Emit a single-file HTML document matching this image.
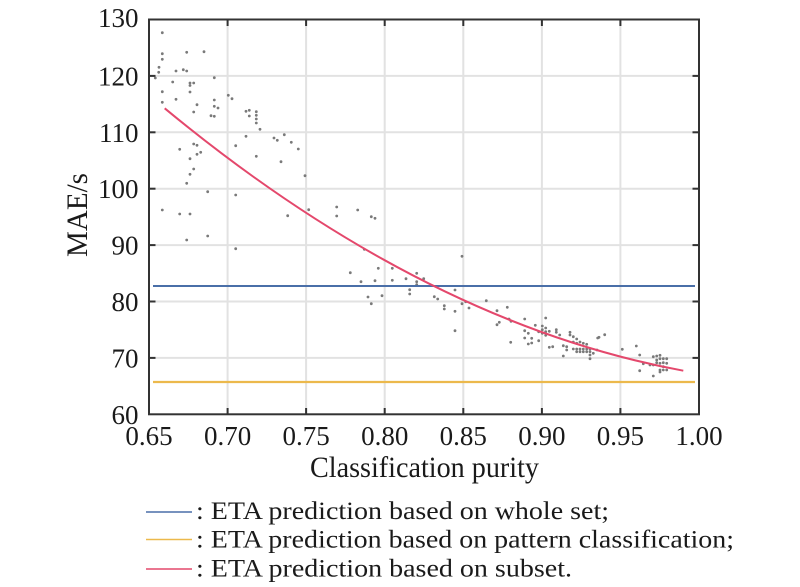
<!DOCTYPE html>
<html><head><meta charset="utf-8">
<style>
html,body{margin:0;padding:0;background:#fff;}
svg{display:block;}
text{font-family:"Liberation Serif","Times New Roman",serif;fill:#1a1a1a;}
</style></head>
<body>
<svg width="800" height="587" viewBox="0 0 800 587" xmlns="http://www.w3.org/2000/svg">
<rect x="0" y="0" width="800" height="587" fill="#fff"/>
<!-- grid -->
<g stroke="#e2e2e2" stroke-width="2">
<line x1="227.6" y1="19.5" x2="227.6" y2="414.3"/>
<line x1="306.1" y1="19.5" x2="306.1" y2="414.3"/>
<line x1="384.7" y1="19.5" x2="384.7" y2="414.3"/>
<line x1="463.3" y1="19.5" x2="463.3" y2="414.3"/>
<line x1="541.9" y1="19.5" x2="541.9" y2="414.3"/>
<line x1="620.4" y1="19.5" x2="620.4" y2="414.3"/>
<line x1="149" y1="75.9" x2="699" y2="75.9"/>
<line x1="149" y1="132.3" x2="699" y2="132.3"/>
<line x1="149" y1="188.7" x2="699" y2="188.7"/>
<line x1="149" y1="245.1" x2="699" y2="245.1"/>
<line x1="149" y1="301.5" x2="699" y2="301.5"/>
<line x1="149" y1="357.9" x2="699" y2="357.9"/>
</g>
<!-- scatter -->
<g fill="#7a7a7a">
<circle cx="162.3" cy="32.7" r="1.4"/><circle cx="162.3" cy="53.7" r="1.4"/><circle cx="162.3" cy="59.3" r="1.4"/>
<circle cx="186.7" cy="52.3" r="1.4"/><circle cx="204" cy="51.7" r="1.4"/><circle cx="159" cy="67.3" r="1.4"/>
<circle cx="158.7" cy="72.3" r="1.4"/><circle cx="176" cy="71" r="1.4"/><circle cx="183.3" cy="69.7" r="1.4"/>
<circle cx="186.7" cy="71" r="1.4"/><circle cx="155.3" cy="78" r="1.4"/><circle cx="172.7" cy="82" r="1.4"/>
<circle cx="190" cy="83" r="1.4"/><circle cx="190" cy="85.5" r="1.4"/><circle cx="193.7" cy="83" r="1.4"/>
<circle cx="214.3" cy="77.7" r="1.4"/><circle cx="162.3" cy="91.7" r="1.4"/><circle cx="190" cy="92" r="1.4"/>
<circle cx="176" cy="99.3" r="1.4"/><circle cx="162.3" cy="102.3" r="1.4"/><circle cx="214.3" cy="100" r="1.4"/>
<circle cx="197" cy="104.7" r="1.4"/><circle cx="214.3" cy="106.3" r="1.4"/><circle cx="218" cy="108" r="1.4"/>
<circle cx="193.7" cy="112" r="1.4"/><circle cx="211" cy="115.7" r="1.4"/><circle cx="214.3" cy="116.3" r="1.4"/>
<circle cx="228.3" cy="95.3" r="1.4"/><circle cx="232" cy="98.7" r="1.4"/><circle cx="246" cy="111.3" r="1.4"/>
<circle cx="249.3" cy="110.3" r="1.4"/><circle cx="249.3" cy="116" r="1.4"/><circle cx="256.3" cy="111.7" r="1.4"/>
<circle cx="256.3" cy="115.3" r="1.4"/><circle cx="256.3" cy="119" r="1.4"/><circle cx="256.3" cy="123" r="1.4"/>
<circle cx="260" cy="129.3" r="1.4"/><circle cx="246" cy="136.3" r="1.4"/><circle cx="274" cy="138" r="1.4"/>
<circle cx="277.3" cy="140.3" r="1.4"/><circle cx="284.3" cy="134.7" r="1.4"/><circle cx="291.3" cy="142.3" r="1.4"/>
<circle cx="298.3" cy="149" r="1.4"/><circle cx="305" cy="175.7" r="1.4"/><circle cx="235.7" cy="145.7" r="1.4"/>
<circle cx="256.3" cy="156.3" r="1.4"/><circle cx="281" cy="161.7" r="1.4"/><circle cx="179.7" cy="149.3" r="1.4"/>
<circle cx="193.7" cy="144" r="1.4"/><circle cx="197" cy="145.3" r="1.4"/><circle cx="200.7" cy="152.3" r="1.4"/>
<circle cx="197" cy="154.3" r="1.4"/><circle cx="190" cy="158.7" r="1.4"/><circle cx="193.7" cy="169" r="1.4"/>
<circle cx="190" cy="174.3" r="1.4"/><circle cx="186.7" cy="183.3" r="1.4"/><circle cx="207.7" cy="191.7" r="1.4"/>
<circle cx="235.7" cy="195" r="1.4"/><circle cx="162.3" cy="210" r="1.4"/><circle cx="179.7" cy="214" r="1.4"/>
<circle cx="190" cy="214" r="1.4"/><circle cx="287.7" cy="215.7" r="1.4"/><circle cx="308.7" cy="209.7" r="1.4"/>
<circle cx="186.7" cy="240" r="1.4"/><circle cx="207.7" cy="236" r="1.4"/><circle cx="235.7" cy="248.7" r="1.4"/>
<!-- middle -->
<circle cx="336.7" cy="207" r="1.4"/><circle cx="336.7" cy="216" r="1.4"/><circle cx="357.7" cy="210" r="1.4"/>
<circle cx="371.3" cy="216.7" r="1.4"/><circle cx="375" cy="218.3" r="1.4"/><circle cx="364.3" cy="249.3" r="1.4"/>
<circle cx="350.3" cy="272.7" r="1.4"/><circle cx="378.3" cy="268.3" r="1.4"/><circle cx="392.3" cy="268.3" r="1.4"/>
<circle cx="361" cy="281.7" r="1.4"/><circle cx="375" cy="280.7" r="1.4"/><circle cx="392.3" cy="280.3" r="1.4"/>
<circle cx="406" cy="278.7" r="1.4"/><circle cx="416.7" cy="273.3" r="1.4"/><circle cx="416.7" cy="281.7" r="1.4"/>
<circle cx="416.7" cy="284.7" r="1.4"/><circle cx="423.7" cy="278.7" r="1.4"/><circle cx="368" cy="297" r="1.4"/>
<circle cx="371.3" cy="303.7" r="1.4"/><circle cx="382" cy="295.7" r="1.4"/><circle cx="409.7" cy="289.7" r="1.4"/>
<circle cx="409.7" cy="294" r="1.4"/><circle cx="434.3" cy="296.7" r="1.4"/><circle cx="437.7" cy="299" r="1.4"/>
<circle cx="444.3" cy="305.7" r="1.4"/><circle cx="444.3" cy="309" r="1.4"/><circle cx="455" cy="290" r="1.4"/>
<circle cx="455" cy="311.3" r="1.4"/><circle cx="455" cy="330.7" r="1.4"/><circle cx="462" cy="256.3" r="1.4"/>
<circle cx="462" cy="303.7" r="1.4"/><circle cx="465.7" cy="301.7" r="1.4"/><circle cx="469" cy="308" r="1.4"/>
<circle cx="486.3" cy="300.7" r="1.4"/><circle cx="497" cy="310.7" r="1.4"/><circle cx="497" cy="324.7" r="1.4"/>
<circle cx="499.3" cy="322.3" r="1.4"/>
<!-- right -->
<circle cx="507.3" cy="307.3" r="1.4"/><circle cx="511" cy="321.3" r="1.4"/><circle cx="509" cy="319" r="1.4"/>
<circle cx="510.7" cy="342.3" r="1.4"/><circle cx="524.7" cy="319" r="1.4"/><circle cx="524.7" cy="330.7" r="1.4"/>
<circle cx="528.3" cy="333.3" r="1.4"/><circle cx="524.7" cy="338" r="1.4"/><circle cx="531.7" cy="338.3" r="1.4"/>
<circle cx="528.3" cy="344" r="1.4"/><circle cx="531.7" cy="343" r="1.4"/><circle cx="535.3" cy="325.3" r="1.4"/>
<circle cx="538.7" cy="331.7" r="1.4"/><circle cx="538.7" cy="340.7" r="1.4"/><circle cx="542.3" cy="326" r="1.4"/>
<circle cx="542.3" cy="329.7" r="1.4"/><circle cx="542.3" cy="333.3" r="1.4"/><circle cx="545.7" cy="318" r="1.4"/>
<circle cx="545.7" cy="328" r="1.4"/><circle cx="545.7" cy="331.7" r="1.4"/><circle cx="545.7" cy="335.3" r="1.4"/>
<circle cx="549.3" cy="331.3" r="1.4"/><circle cx="549.3" cy="347.3" r="1.4"/><circle cx="552.7" cy="346.7" r="1.4"/>
<circle cx="556.3" cy="329.7" r="1.4"/><circle cx="556.3" cy="332.3" r="1.4"/><circle cx="559.7" cy="335" r="1.4"/>
<circle cx="563.3" cy="345.7" r="1.4"/><circle cx="566.7" cy="346.7" r="1.4"/><circle cx="566.7" cy="350" r="1.4"/>
<circle cx="563.3" cy="356" r="1.4"/><circle cx="570" cy="332.3" r="1.4"/><circle cx="570" cy="335" r="1.4"/>
<circle cx="573.3" cy="336.7" r="1.4"/><circle cx="576.7" cy="339" r="1.4"/>
<circle cx="573.3" cy="342" r="1.4"/><circle cx="576.7" cy="343.3" r="1.4"/><circle cx="580" cy="342" r="1.4"/>
<circle cx="583.3" cy="343.3" r="1.4"/><circle cx="586.7" cy="344.3" r="1.4"/>
<circle cx="573.3" cy="349" r="1.4"/><circle cx="576.7" cy="349" r="1.4"/><circle cx="580" cy="349" r="1.4"/>
<circle cx="583.3" cy="349" r="1.4"/><circle cx="586.7" cy="349" r="1.4"/><circle cx="590" cy="349" r="1.4"/>
<circle cx="576.7" cy="351.7" r="1.4"/><circle cx="580" cy="351.7" r="1.4"/><circle cx="583.3" cy="351.7" r="1.4"/>
<circle cx="586.7" cy="351.7" r="1.4"/><circle cx="590" cy="351.7" r="1.4"/>
<circle cx="590" cy="355" r="1.4"/><circle cx="593.3" cy="353.3" r="1.4"/><circle cx="590" cy="358.7" r="1.4"/>
<circle cx="597" cy="350" r="1.4"/><circle cx="599" cy="337.3" r="1.4"/>
<circle cx="597.7" cy="338" r="1.4"/><circle cx="604.7" cy="334.7" r="1.4"/>
<circle cx="622.3" cy="349.3" r="1.4"/><circle cx="636.3" cy="346" r="1.4"/><circle cx="639.7" cy="355" r="1.4"/>
<circle cx="639.7" cy="370.7" r="1.4"/><circle cx="643.3" cy="363.7" r="1.4"/><circle cx="650" cy="365" r="1.4"/>
<circle cx="653.3" cy="365" r="1.4"/><circle cx="653.3" cy="376" r="1.4"/>
<circle cx="653.3" cy="356.7" r="1.4"/><circle cx="656.7" cy="356" r="1.4"/><circle cx="660" cy="355.3" r="1.4"/>
<circle cx="656.7" cy="360" r="1.4"/><circle cx="660" cy="358.7" r="1.4"/><circle cx="663.3" cy="358.7" r="1.4"/>
<circle cx="666.7" cy="358.7" r="1.4"/><circle cx="656.7" cy="362.7" r="1.4"/><circle cx="660" cy="363.3" r="1.4"/>
<circle cx="663.3" cy="362.7" r="1.4"/><circle cx="666.7" cy="363.3" r="1.4"/><circle cx="663.3" cy="366.7" r="1.4"/>
<circle cx="660" cy="370" r="1.4"/><circle cx="663.3" cy="370" r="1.4"/><circle cx="666.7" cy="370" r="1.4"/>
<circle cx="660" cy="372" r="1.4"/>
</g>
<!-- lines -->
<line x1="153" y1="286" x2="695" y2="286" stroke="#4a6fa8" stroke-width="2"/>
<line x1="153" y1="382" x2="695" y2="382" stroke="#ecb94c" stroke-width="2.2"/>
<path d="M164.7,108.3 Q424,322.7 683.3,370.7" fill="none" stroke="#e4486c" stroke-width="2"/>
<!-- axes box -->
<rect x="149" y="19.5" width="550" height="394.8" fill="none" stroke="#333" stroke-width="2"/>
<!-- ticks -->
<g stroke="#333" stroke-width="2">
<line x1="227.6" y1="414.3" x2="227.6" y2="408"/><line x1="306.1" y1="414.3" x2="306.1" y2="408"/>
<line x1="384.7" y1="414.3" x2="384.7" y2="408"/><line x1="463.3" y1="414.3" x2="463.3" y2="408"/>
<line x1="541.9" y1="414.3" x2="541.9" y2="408"/><line x1="620.4" y1="414.3" x2="620.4" y2="408"/>
<line x1="227.6" y1="19.5" x2="227.6" y2="26"/><line x1="306.1" y1="19.5" x2="306.1" y2="26"/>
<line x1="384.7" y1="19.5" x2="384.7" y2="26"/><line x1="463.3" y1="19.5" x2="463.3" y2="26"/>
<line x1="541.9" y1="19.5" x2="541.9" y2="26"/><line x1="620.4" y1="19.5" x2="620.4" y2="26"/>
<line x1="149" y1="75.9" x2="155.5" y2="75.9"/><line x1="149" y1="132.3" x2="155.5" y2="132.3"/>
<line x1="149" y1="188.7" x2="155.5" y2="188.7"/><line x1="149" y1="245.1" x2="155.5" y2="245.1"/>
<line x1="149" y1="301.5" x2="155.5" y2="301.5"/><line x1="149" y1="357.9" x2="155.5" y2="357.9"/>
<line x1="699" y1="75.9" x2="692.5" y2="75.9"/><line x1="699" y1="132.3" x2="692.5" y2="132.3"/>
<line x1="699" y1="188.7" x2="692.5" y2="188.7"/><line x1="699" y1="245.1" x2="692.5" y2="245.1"/>
<line x1="699" y1="301.5" x2="692.5" y2="301.5"/><line x1="699" y1="357.9" x2="692.5" y2="357.9"/>
</g>
<!-- y tick labels -->
<g font-size="27" text-anchor="end">
<text x="138.5" y="27">130</text>
<text x="138.5" y="85.4">120</text>
<text x="138.5" y="141.8">110</text>
<text x="138.5" y="198.2">100</text>
<text x="138.5" y="254.6">90</text>
<text x="138.5" y="311">80</text>
<text x="138.5" y="367.4">70</text>
<text x="138.5" y="423.8">60</text>
</g>
<!-- x tick labels -->
<g font-size="27" text-anchor="middle">
<text x="149" y="445">0.65</text>
<text x="227.6" y="445">0.70</text>
<text x="306.1" y="445">0.75</text>
<text x="384.7" y="445">0.80</text>
<text x="463.3" y="445">0.85</text>
<text x="541.9" y="445">0.90</text>
<text x="620.4" y="445">0.95</text>
<text x="699" y="445">1.00</text>
</g>
<text x="310" y="477" font-size="30" textLength="229" lengthAdjust="spacingAndGlyphs">Classification purity</text>
<text transform="translate(87,257) rotate(-90)" x="0" y="0" font-size="30" textLength="84" lengthAdjust="spacingAndGlyphs">MAE/s</text>
<!-- legend -->
<line x1="146" y1="512" x2="192" y2="512" stroke="#4a6fa8" stroke-width="1.6"/>
<line x1="146" y1="539.5" x2="192" y2="539.5" stroke="#ecb94c" stroke-width="1.6"/>
<line x1="146" y1="569" x2="192" y2="569" stroke="#e4486c" stroke-width="1.6"/>
<text x="196" y="519" font-size="25.5" textLength="413" lengthAdjust="spacingAndGlyphs">: ETA prediction based on whole set;</text>
<text x="196" y="547.5" font-size="25.5" textLength="538" lengthAdjust="spacingAndGlyphs">: ETA prediction based on pattern classification;</text>
<text x="196" y="576.5" font-size="25.5" textLength="376" lengthAdjust="spacingAndGlyphs">: ETA prediction based on subset.</text>
</svg>
</body></html>
